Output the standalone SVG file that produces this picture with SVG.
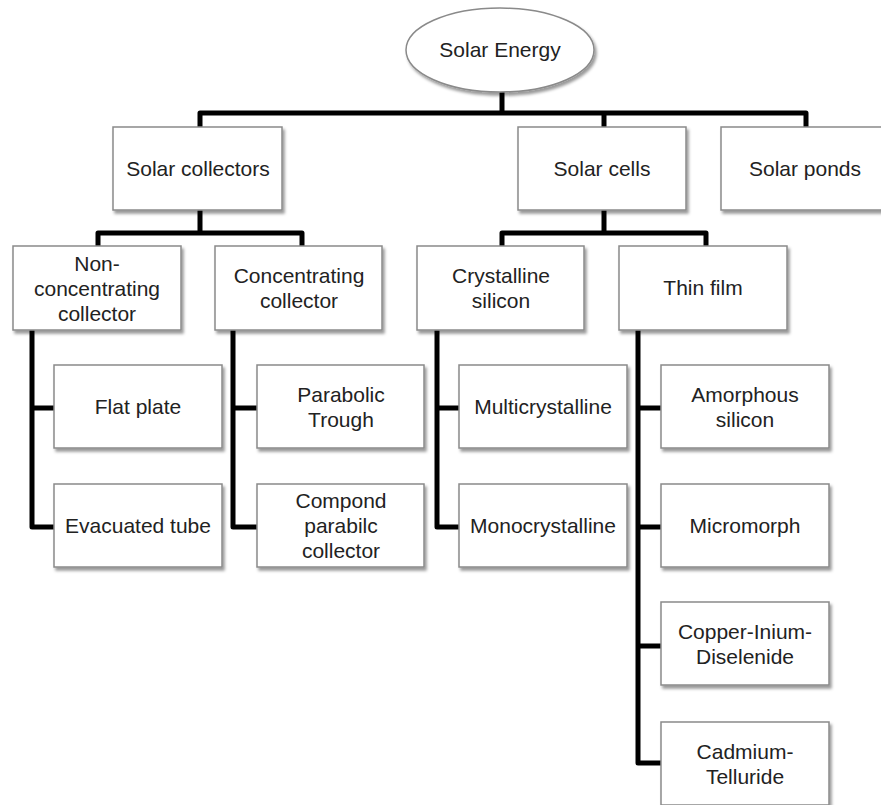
<svg xmlns="http://www.w3.org/2000/svg" width="881" height="805" viewBox="0 0 881 805">
<defs>
<filter id="sh" x="-10%" y="-10%" width="130%" height="140%">
<feDropShadow dx="2" dy="3" stdDeviation="1.6" flood-color="#000" flood-opacity="0.4"/>
</filter>
</defs>
<style>
.box{fill:#fff;stroke:#8a8a8a;stroke-width:1.5;filter:url(#sh)}
.t{font-family:"Liberation Sans",Arial,sans-serif;font-size:21px;fill:#222;text-anchor:middle}
.c{fill:none;stroke:#000;stroke-width:5;stroke-linejoin:round}
</style>
<rect width="881" height="805" fill="#fff"/>
<g id="connectors">
<path class="c" d="M502 92V113M200 127V113H806V127M604 113V127"/>
<path class="c" d="M200 210V233M98 246V233H302V246"/>
<path class="c" d="M604 210V233M502 246V233H706V246"/>
<path class="c" d="M32 330V527H54M32 408H54"/>
<path class="c" d="M233 330V527H257M233 408H257"/>
<path class="c" d="M437 330V527H459M437 408H459"/>
<path class="c" d="M638 330V763H661M638 408H661M638 527H661M638 646H661"/>
</g>
<g id="solar-energy">
<ellipse cx="500" cy="50" rx="94" ry="42" fill="#fff" stroke="#8a8a8a" stroke-width="1.5" filter="url(#sh)"/>
<text class="t" x="500" y="57">Solar Energy</text>
</g>
<g id="solar-collectors"><rect class="box" x="113" y="127" width="169" height="83"/><text class="t" x="198" y="176">Solar collectors</text></g>
<g id="solar-cells"><rect class="box" x="518" y="127" width="168" height="83"/><text class="t" x="602" y="176">Solar cells</text></g>
<g id="solar-ponds"><rect class="box" x="721" y="127" width="168" height="83"/><text class="t" x="805" y="176">Solar ponds</text></g>
<g id="non-concentrating"><rect class="box" x="13" y="246" width="168" height="84"/><text class="t" x="97" y="271">Non-</text><text class="t" x="97" y="296">concentrating</text><text class="t" x="97" y="321">collector</text></g>
<g id="concentrating"><rect class="box" x="215" y="246" width="167" height="84"/><text class="t" x="299" y="283">Concentrating</text><text class="t" x="299" y="308">collector</text></g>
<g id="crystalline"><rect class="box" x="417" y="246" width="167" height="84"/><text class="t" x="501" y="283">Crystalline</text><text class="t" x="501" y="308">silicon</text></g>
<g id="thin-film"><rect class="box" x="619" y="246" width="168" height="84"/><text class="t" x="703" y="295">Thin film</text></g>
<g id="flat-plate"><rect class="box" x="54" y="365" width="168" height="83"/><text class="t" x="138" y="414">Flat plate</text></g>
<g id="evacuated-tube"><rect class="box" x="54" y="484" width="168" height="83"/><text class="t" x="138" y="533">Evacuated tube</text></g>
<g id="parabolic-trough"><rect class="box" x="257" y="365" width="167" height="83"/><text class="t" x="341" y="402">Parabolic</text><text class="t" x="341" y="427">Trough</text></g>
<g id="compond"><rect class="box" x="257" y="484" width="167" height="83"/><text class="t" x="341" y="508">Compond</text><text class="t" x="341" y="533">parabilc</text><text class="t" x="341" y="558">collector</text></g>
<g id="multicrystalline"><rect class="box" x="459" y="365" width="168" height="83"/><text class="t" x="543" y="414">Multicrystalline</text></g>
<g id="monocrystalline"><rect class="box" x="459" y="484" width="168" height="83"/><text class="t" x="543" y="533">Monocrystalline</text></g>
<g id="amorphous"><rect class="box" x="661" y="365" width="168" height="83"/><text class="t" x="745" y="402">Amorphous</text><text class="t" x="745" y="427">silicon</text></g>
<g id="micromorph"><rect class="box" x="661" y="484" width="168" height="83"/><text class="t" x="745" y="533">Micromorph</text></g>
<g id="copper"><rect class="box" x="661" y="602" width="168" height="83"/><text class="t" x="745" y="639">Copper-Inium-</text><text class="t" x="745" y="664">Diselenide</text></g>
<g id="cadmium"><rect class="box" x="661" y="722" width="168" height="83"/><text class="t" x="745" y="759">Cadmium-</text><text class="t" x="745" y="784">Telluride</text></g>
</svg>
